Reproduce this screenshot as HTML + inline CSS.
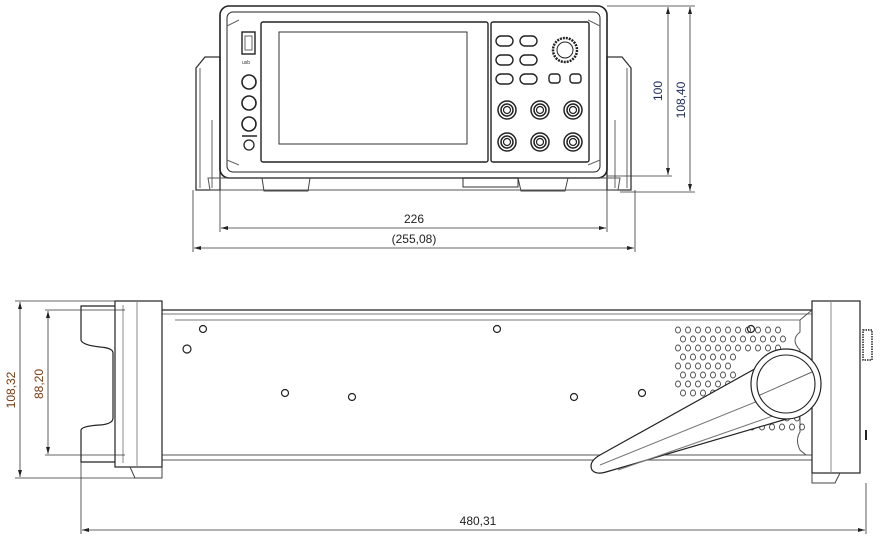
<!DOCTYPE html>
<html><head><meta charset="utf-8"><style>
html,body{margin:0;padding:0;background:#fff;width:880px;height:536px;overflow:hidden}
svg{display:block}
text{font-family:"Liberation Sans",sans-serif;font-size:12px}
</style></head><body>
<svg width="880" height="536" viewBox="0 0 880 536" xmlns="http://www.w3.org/2000/svg" fill="none" stroke="#222" stroke-width="1">
<defs>
<g id="j"><circle r="9" stroke-width="1.5"/><circle r="6" stroke-width="1.5"/><circle r="3.5" stroke-width="1.2"/></g>
<g id="r1" stroke="#444" stroke-width="0.9"><ellipse cx="0" cy="0" rx="2.5" ry="3"/><ellipse cx="10" cy="0" rx="2.5" ry="3"/><ellipse cx="20" cy="0" rx="2.5" ry="3"/><ellipse cx="30" cy="0" rx="2.5" ry="3"/><ellipse cx="40" cy="0" rx="2.5" ry="3"/><ellipse cx="50" cy="0" rx="2.5" ry="3"/><ellipse cx="60" cy="0" rx="2.5" ry="3"/><ellipse cx="70" cy="0" rx="2.5" ry="3"/><ellipse cx="80" cy="0" rx="2.5" ry="3"/><ellipse cx="90" cy="0" rx="2.5" ry="3"/><ellipse cx="100" cy="0" rx="2.5" ry="3"/></g>
<g id="r2" stroke="#444" stroke-width="0.9"><ellipse cx="0" cy="0" rx="2.5" ry="3"/><ellipse cx="10" cy="0" rx="2.5" ry="3"/><ellipse cx="20" cy="0" rx="2.5" ry="3"/><ellipse cx="30" cy="0" rx="2.5" ry="3"/><ellipse cx="40" cy="0" rx="2.5" ry="3"/><ellipse cx="50" cy="0" rx="2.5" ry="3"/></g>
</defs>
<!-- FRONT VIEW -->
<path d="M196 68 L205 57 L220 57 L220 190 L196 190 Z" stroke="#333" stroke-width="1.3"/>
<path d="M200 68 L200 188 M212 120 L212 188" stroke="#666"/>
<path d="M631 68 L622 57 L607 57 L607 190 L631 190 Z" stroke="#333" stroke-width="1.3"/>
<path d="M627 68 L627 188 M615 120 L615 188" stroke="#666"/>
<rect x="220" y="6" width="387" height="172" rx="9" stroke-width="1.6"/>
<rect x="227" y="12" width="373" height="160" rx="6"/>
<path d="M227 26 L239 20 M600 26 L588 20 M227 160 L239 165 M600 160 L588 165" stroke="#666"/>
<rect x="261" y="22" width="227" height="140" rx="2" stroke-width="1.4"/>
<rect x="279" y="32" width="188" height="112" stroke="#333"/>
<rect x="491" y="22" width="98" height="140" rx="2" stroke-width="1.4"/>
<path d="M208 178 L620 178 L618 190 L210 190 Z" stroke="#555"/>
<path d="M262 178 L264 191 L308 191 L310 178 M518 178 L521 191 L565 191 L568 178" stroke="#444"/>
<rect x="463" y="178" width="55" height="9" stroke="#333"/>
<rect x="242" y="32" width="13" height="22" stroke-width="1.4"/>
<rect x="245" y="36" width="7" height="14" stroke="#666"/>
<text x="242" y="64" style="font-size:5px" fill="#333" stroke="none">usb</text>
<circle cx="249" cy="82" r="7" stroke-width="1.6"/>
<circle cx="249" cy="103" r="7" stroke-width="1.6"/>
<circle cx="249" cy="124" r="7" stroke-width="1.6"/>
<line x1="242" y1="136" x2="257" y2="136" stroke-width="1.5"/>
<circle cx="249" cy="145" r="5" stroke-width="1.3"/>
<g stroke-width="1.4">
<rect x="496" y="36" width="17" height="10" rx="5"/><rect x="520" y="36" width="17" height="10" rx="5"/>
<rect x="496" y="55" width="17" height="10" rx="5"/><rect x="520" y="55" width="17" height="10" rx="5"/>
<rect x="496" y="74" width="17" height="10" rx="5"/><rect x="520" y="74" width="17" height="10" rx="5"/>
<rect x="549" y="74" width="11" height="9" rx="3"/><rect x="570" y="74" width="11" height="9" rx="3"/>
</g>
<circle cx="565" cy="50" r="12" stroke-width="2.5" stroke-dasharray="2 1"/>
<circle cx="565" cy="50" r="8"/>
<use href="#j" x="507" y="110"/><use href="#j" x="540" y="110"/><use href="#j" x="573" y="110"/>
<use href="#j" x="507" y="142"/><use href="#j" x="540" y="142"/><use href="#j" x="573" y="142"/>
<g stroke="#333" stroke-width="0.8">
<line x1="607" y1="6" x2="695" y2="6"/><line x1="607" y1="176" x2="672" y2="176"/><line x1="620" y1="192" x2="695" y2="192"/>
<line x1="668" y1="7" x2="668" y2="175"/><line x1="690" y1="7" x2="690" y2="191"/>
<line x1="220" y1="180" x2="220" y2="232"/><line x1="607" y1="180" x2="607" y2="232"/>
<line x1="193" y1="190" x2="193" y2="252"/><line x1="635" y1="190" x2="635" y2="252"/>
<line x1="221" y1="228" x2="606" y2="228"/><line x1="194" y1="248" x2="634" y2="248"/>
</g>
<g fill="#222" stroke="none">
<path d="M668 7 l-2 7 h4z M668 175 l-2 -7 h4z M690 7 l-2 7 h4z M690 191 l-2 -7 h4z"/>
<path d="M221 228 l7 -2 v4z M606 228 l-7 -2 v4z M194 248 l7 -2 v4z M634 248 l-7 -2 v4z"/>
</g>
<text x="414" y="223" text-anchor="middle" fill="#222" stroke="none">226</text>
<text x="414" y="243" text-anchor="middle" fill="#222" stroke="none">(255,08)</text>
<text transform="translate(662 91) rotate(-90)" text-anchor="middle" fill="#1a2a5a" stroke="none">100</text>
<text transform="translate(685 100) rotate(-90)" text-anchor="middle" fill="#1a2a5a" stroke="none">108,40</text>

<!-- SIDE VIEW -->
<path d="M162 310 L812 310" stroke-width="1.2"/>
<path d="M162 314 L812 314 M175 320 L800 320" stroke="#777"/>
<path d="M162 455 L812 455 M162 460 L812 460" stroke="#555"/>
<path d="M800 320 L812 310 M800 320 L800 332 Q790 340 800 350 L800 432 Q795 440 800 450 L806 455" stroke="#555"/>
<rect x="115" y="301" width="47" height="166" stroke-width="1.2"/>
<line x1="123" y1="305" x2="123" y2="463" stroke="#888"/>
<line x1="137" y1="301" x2="137" y2="467" stroke="#888"/>
<path d="M130 467 L135 478 L162 478 L162 467" stroke="#444"/>
<path d="M115 306 L81 306 L81 340 Q82 345 100 347 Q113 348 113 353 L113 418 Q113 424 100 425 Q82 426 81 430 L81 462 L115 462" stroke-width="1.2"/>
<rect x="812" y="301" width="48" height="172" stroke-width="1.2"/>
<line x1="831" y1="301" x2="831" y2="473" stroke="#888"/>
<path d="M812 473 L812 483 L835 483 L840 473" stroke="#444"/>
<rect x="863" y="330" width="9" height="30" stroke-width="1.5" stroke-dasharray="1.5 1"/>
<line x1="866" y1="430" x2="866" y2="440" stroke-width="2"/>
<g stroke-width="1.2">
<circle cx="203" cy="329" r="3.5"/><circle cx="497" cy="329" r="3.5"/><circle cx="751" cy="329" r="3.5"/>
<circle cx="285" cy="393" r="3.5"/><circle cx="642" cy="393" r="3.5"/>
<circle cx="187" cy="349" r="4"/><circle cx="352" cy="397" r="3.5"/><circle cx="574" cy="397" r="3.5"/>
</g>
<use href="#r1" x="678" y="330"/><use href="#r1" x="683" y="339"/><use href="#r1" x="678" y="348"/>
<use href="#r2" x="683" y="357"/><use href="#r2" x="678" y="366"/><use href="#r2" x="683" y="375"/><use href="#r2" x="678" y="384"/><use href="#r2" x="683" y="393"/>
<use href="#r2" x="747" y="418"/><use href="#r2" x="752" y="427"/>
<path d="M760 366 L600 455 Q588 462 592 470 Q596 475 606 472 L790 418" fill="#fff" stroke-width="1.2"/>
<path d="M600 465 L785 390 M618 470 L790 410" stroke="#777"/>
<circle cx="786" cy="384" r="35" fill="#fff" stroke-width="1.2"/>
<circle cx="786" cy="384" r="29" stroke-width="1.1"/>
<line x1="760" y1="395" x2="812" y2="372" stroke="#666"/>
<g stroke="#333" stroke-width="0.8">
<line x1="15" y1="301" x2="115" y2="301"/><line x1="15" y1="478" x2="135" y2="478"/>
<line x1="45" y1="310" x2="125" y2="310"/><line x1="45" y1="455" x2="125" y2="455"/>
<line x1="20" y1="302" x2="20" y2="477"/><line x1="48" y1="311" x2="48" y2="454"/>
<line x1="81" y1="462" x2="81" y2="534"/><line x1="866" y1="483" x2="866" y2="534"/>
<line x1="82" y1="530" x2="865" y2="530"/>
</g>
<g fill="#222" stroke="none">
<path d="M20 302 l-2 7 h4z M20 477 l-2 -7 h4z M48 311 l-2 7 h4z M48 454 l-2 -7 h4z M82 530 l7 -2 v4z M865 530 l-7 -2 v4z"/>
</g>
<text transform="translate(15 390) rotate(-90)" text-anchor="middle" fill="#7a3a10" stroke="none">108,32</text>
<text transform="translate(43 384) rotate(-90)" text-anchor="middle" fill="#7a3a10" stroke="none">88,20</text>
<text x="478" y="525" text-anchor="middle" fill="#222" stroke="none">480,31</text>
</svg>
</body></html>
